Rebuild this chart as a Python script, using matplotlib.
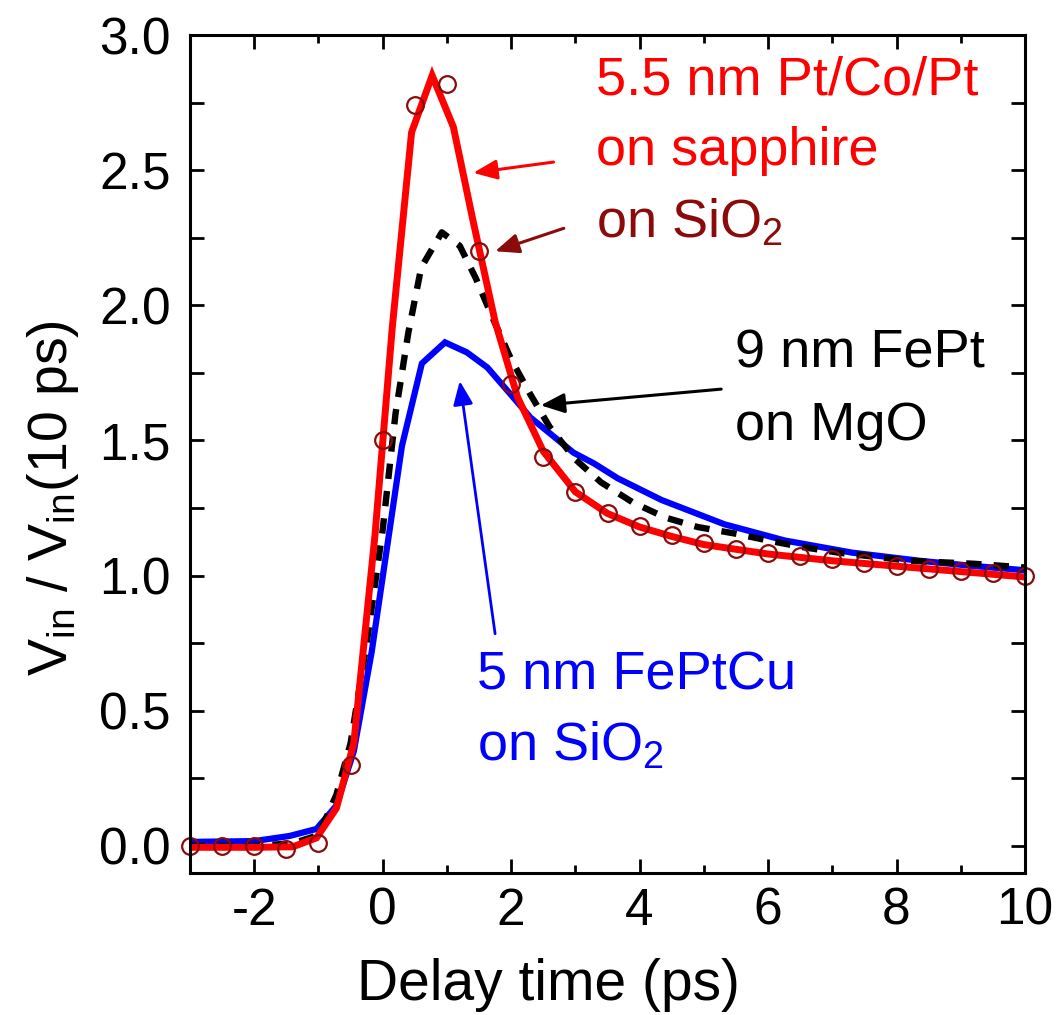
import matplotlib
matplotlib.use("Agg")
import matplotlib.pyplot as plt
from matplotlib.ticker import MultipleLocator

plt.rcParams['font.family'] = ['Liberation Sans', 'DejaVu Sans']
plt.rcParams['mathtext.fontset'] = 'custom'
plt.rcParams['mathtext.rm'] = 'Liberation Sans'
plt.rcParams['mathtext.default'] = 'regular'
plt.rcParams['axes.unicode_minus'] = False

# 5.5 nm Pt/Co/Pt on sapphire (solid red)
sapphire_t = [-3, -2, -1.4, -1.03, -0.72, -0.45, -0.12, 0.15, 0.45, 0.77, 1.1, 1.4,
              1.75, 2.1, 2.5, 3.0, 3.5, 4.0, 4.5, 5.0, 6.0, 7.0, 8.0, 9.0, 10.0]
sapphire_v = [-0.005, -0.005, -0.003, 0.03, 0.14, 0.38, 1.15, 1.92, 2.64, 2.85, 2.66, 2.32,
              1.94, 1.66, 1.46, 1.31, 1.23, 1.18, 1.145, 1.115, 1.08, 1.055, 1.035, 1.015, 0.995]

# 5.5 nm Pt/Co/Pt on SiO2 (open circles)
sio2_t = [-3, -2.5, -2, -1.5, -1, -0.5, 0, 0.5, 1.0, 1.5, 2.0, 2.5, 3.0, 3.5,
          4.0, 4.5, 5.0, 5.5, 6.0, 6.5, 7.0, 7.5, 8.0, 8.5, 9.0, 9.5, 10.0]
sio2_v = [0.0, 0.0, 0.0, -0.01, 0.01, 0.30, 1.50, 2.74, 2.82, 2.20, 1.71, 1.44, 1.31, 1.23,
          1.185, 1.15, 1.12, 1.10, 1.085, 1.074, 1.06, 1.048, 1.037, 1.026, 1.019, 1.011, 1.0]

# 9 nm FePt on MgO (black dashed)
mgo_t = [-3, -2, -1.4, -1.0, -0.72, -0.5, -0.25, 0.0, 0.2, 0.4, 0.6, 0.92, 1.2, 1.45,
         1.7, 2.0, 2.3, 2.6, 3.0, 3.4, 3.9, 4.4, 4.9, 5.5, 6.0, 6.5, 7.1, 8.2, 9.2, 10.0]
mgo_v = [0.0, 0.0, 0.01, 0.04, 0.19, 0.38, 0.75, 1.17, 1.6, 1.9, 2.14, 2.27, 2.22, 2.1,
         1.96, 1.8, 1.67, 1.55, 1.43, 1.345, 1.27, 1.215, 1.18, 1.155, 1.13, 1.107, 1.085,
         1.055, 1.044, 1.03]

# 5 nm FePtCu on SiO2 (solid blue)
cu_t = [-3, -2, -1.45, -1.03, -0.72, -0.45, -0.17, 0.30, 0.61, 0.97, 1.31, 1.63, 2.03,
        2.3, 2.61, 2.97, 3.29, 3.66, 4.34, 5.32, 6.26, 7.31, 8.36, 9.14, 10.0]
cu_v = [0.015, 0.018, 0.037, 0.063, 0.15, 0.35, 0.72, 1.48, 1.785, 1.863, 1.826, 1.77, 1.66,
        1.585, 1.525, 1.455, 1.415, 1.36, 1.28, 1.19, 1.13, 1.085, 1.055, 1.037, 1.02]

RED = '#ff0000'
DARKRED = '#8b0a0a'
BLUE = '#0000ff'

fig = plt.figure(figsize=(10.58, 10.15), dpi=100)
ax = fig.add_axes([190 / 1058, 142 / 1015, 835 / 1058, 838 / 1015])

ax.plot(cu_t, cu_v, color=BLUE, lw=4.5, solid_joinstyle='miter')
ax.plot(mgo_t, mgo_v, color='black', lw=4.6, dashes=(2.4, 1.9))
ax.plot(sapphire_t, sapphire_v, color=RED, lw=5, solid_joinstyle='miter')
ax.plot(sio2_t, sio2_v, 'o', mfc='none', mec=DARKRED, ms=12, mew=1.6, clip_on=False)

ax.set_xlim(-3, 10)
ax.set_ylim(-0.1, 3.0)
ax.xaxis.set_major_locator(MultipleLocator(2))
ax.xaxis.set_minor_locator(MultipleLocator(1))
ax.yaxis.set_major_locator(MultipleLocator(0.5))
ax.yaxis.set_minor_locator(MultipleLocator(0.25))
ax.tick_params(which='both', direction='in', top=True, right=True, width=2)
ax.tick_params(which='major', length=10, labelsize=37)
ax.tick_params(axis='x', which='minor', length=6)
ax.tick_params(axis='y', which='minor', length=10)
ax.tick_params(axis='x', pad=10)
ax.tick_params(axis='y', pad=14)
for s in ax.spines.values():
    s.set_linewidth(2.2)

ax.set_xlabel('Delay time (ps)', fontsize=41)
ax.xaxis.set_label_coords(0.429, -0.102)
ax.set_ylabel('V$_{in}$ / V$_{in}$(10 ps)', fontsize=40)
ax.yaxis.set_label_coords(-0.13, 0.447)

fs = 39
ax.text(3.32, 2.78, '5.5 nm Pt/Co/Pt', color=RED, fontsize=fs)
ax.text(3.32, 2.52, 'on sapphire', color=RED, fontsize=fs)
ax.text(3.32, 2.25, 'on SiO$_2$', color=DARKRED, fontsize=fs)
ax.text(5.48, 1.77, '9 nm FePt', color='black', fontsize=fs)
ax.text(5.48, 1.50, 'on MgO', color='black', fontsize=fs)
ax.text(1.47, 0.58, '5 nm FePtCu', color=BLUE, fontsize=fs)
ax.text(1.47, 0.315, 'on SiO$_2$', color=BLUE, fontsize=fs)

arrow = dict(arrowstyle='-|>,head_length=0.6,head_width=0.25', mutation_scale=24,
             shrinkA=0, shrinkB=0)
ax.annotate('', xy=(1.41, 2.49), xytext=(2.66, 2.53),
            arrowprops=dict(arrow, color=RED, lw=2.2))
ax.annotate('', xy=(1.75, 2.20), xytext=(2.82, 2.285),
            arrowprops=dict(arrow, color=DARKRED, lw=2.2))
ax.annotate('', xy=(2.46, 1.63), xytext=(5.27, 1.69),
            arrowprops=dict(arrow, color='black', lw=2.2))
ax.annotate('', xy=(1.2, 1.72), xytext=(1.75, 0.785),
            arrowprops=dict(arrow, color=BLUE, lw=2))

fig.savefig('out.png', dpi=100)
